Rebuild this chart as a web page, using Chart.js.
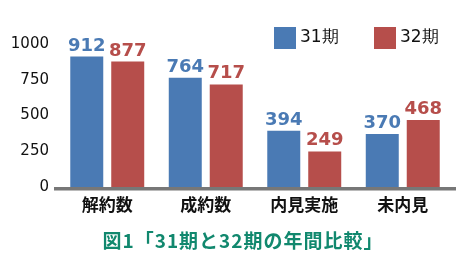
<!DOCTYPE html>
<html>
<head>
<meta charset="utf-8">
<script src="https://cdn.jsdelivr.net/npm/chart.js@4"></script>
<style>
  html,body{margin:0;padding:0;background:#fff;}
  #wrap{width:474px;height:260px;position:relative;}
</style>
</head>
<body>
<div id="wrap"><canvas id="c" width="474" height="260"></canvas></div>
<script>
'use strict';
const categories = ['解約数','成約数','内見実施','未内見'];
const seriesNames = ['31期','32期'];
const term31 = [912, 764, 394, 370];
const term32 = [877, 717, 249, 468];
const yTicks = [0, 250, 500, 750, 1000];
const chartTitle = '図1「31期と32期の年間比較」';

const BLUE = '#4a7ab4', RED = '#b64e4b';
const NUM_FONT = '"DejaVu Sans", Verdana, "Noto Sans", sans-serif';
const JP_FONT = '"Noto Sans CJK JP", "Noto Sans", sans-serif';

// value labels above each bar
const valueLabels = {
  id:'valueLabels',
  afterDatasetsDraw(chart){
    const ctx=chart.ctx;
    ctx.save();
    ctx.font='bold 18px '+NUM_FONT;
    ctx.textAlign='center';
    ctx.textBaseline='alphabetic';
    chart.data.datasets.forEach((ds,i)=>{
      chart.getDatasetMeta(i).data.forEach((bar,j)=>{
        ctx.fillStyle=ds.backgroundColor;
        ctx.fillText(String(ds.data[j]), bar.x, bar.y-6);
      });
    });
    ctx.restore();
  }
};

// thick grey base line
const baseLine = {
  id:'baseLine',
  afterDatasetsDraw(chart){
    const ctx=chart.ctx, a=chart.chartArea;
    const y=chart.scales.y.getPixelForValue(0);
    ctx.save();
    ctx.fillStyle='#777';
    ctx.fillRect(a.left-4, y, a.right-a.left+8, 3.5);
    ctx.restore();
  }
};

// legend at top right + caption under the chart
const extras = {
  id:'extras',
  afterDraw(chart){
    const ctx=chart.ctx;
    const xs=[274, 374];
    ctx.save();
    ctx.font='17px '+NUM_FONT;
    ctx.textBaseline='middle';
    ctx.textAlign='left';
    chart.data.datasets.forEach((ds,i)=>{
      ctx.fillStyle=ds.backgroundColor;
      ctx.fillRect(xs[i], 27, 22, 22);
      ctx.fillStyle='#111';
      ctx.fillText(ds.label, xs[i]+26, 38);
    });
    ctx.font='bold 19px '+JP_FONT;
    ctx.fillStyle='#11886e';
    ctx.textAlign='center';
    try{ ctx.letterSpacing='1px'; }catch(e){}
    ctx.fillText(chartTitle, 243, 241);
    ctx.restore();
  }
};

new Chart(document.getElementById('c').getContext('2d'),{
  type:'bar',
  data:{
    labels:categories,
    datasets:[
      {label:seriesNames[0], data:term31, backgroundColor:BLUE},
      {label:seriesNames[1], data:term32, backgroundColor:RED}
    ]
  },
  options:{
    responsive:false,
    animation:false,
    events:[],
    layout:{padding:{top:44,right:22,left:0,bottom:42}},
    datasets:{bar:{categoryPercentage:0.832, barPercentage:0.805}},
    plugins:{
      legend:{display:false},
      tooltip:{enabled:false},
      title:{display:false}
    },
    scales:{
      x:{
        grid:{display:false, drawTicks:false},
        border:{display:false},
        ticks:{color:'#111', padding:7, font:{family:JP_FONT, size:17, weight:'bold'}},
        afterFit(s){ s.height=31; }
      },
      y:{
        min:0, max:1000,
        grid:{display:false, drawTicks:false},
        border:{display:false},
        afterBuildTicks(s){ s.ticks=yTicks.map(v=>({value:v})); },
        ticks:{color:'#111', padding:9, font:{family:NUM_FONT, size:15}, callback:v=>String(v)},
        afterFit(s){ s.width=58; }
      }
    }
  },
  plugins:[valueLabels, baseLine, extras]
});
</script>
</body>
</html>
